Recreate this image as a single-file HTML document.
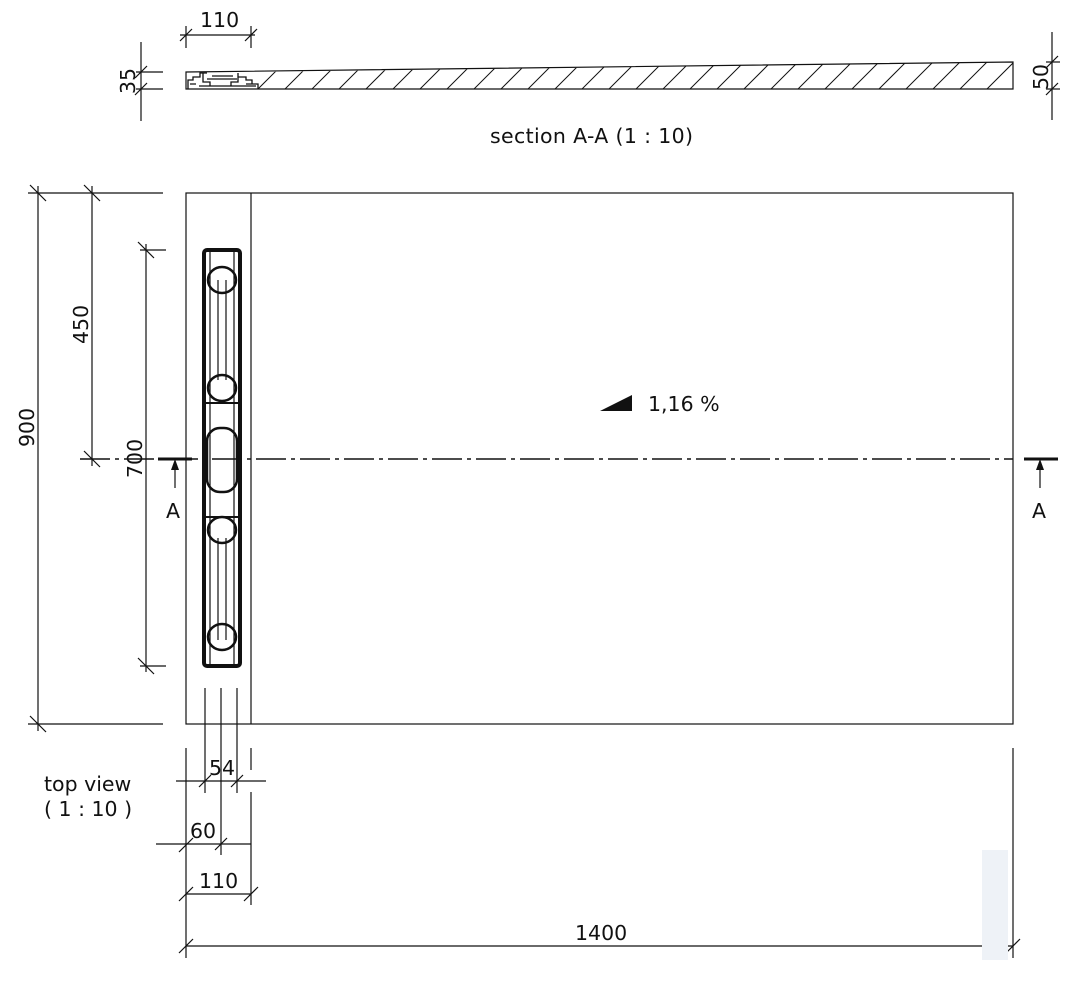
<!DOCTYPE html>
<html><head><meta charset="utf-8"><style>
html,body{margin:0;padding:0;background:#fff;}
svg{display:block;}
text{font-family:"DejaVu Sans","Liberation Sans",sans-serif;fill:#111;}
</style></head><body>
<svg width="1068" height="981" viewBox="0 0 1068 981" xmlns="http://www.w3.org/2000/svg">
<defs>
<clipPath id="sec"><polygon points="258,72 1013,62 1013,89 258,89"/></clipPath>
</defs>
<g stroke="#111" fill="none" stroke-width="1.2">
<polygon points="186,72 1013,62 1013,89 186,89"/>
<g clip-path="url(#sec)" stroke-width="1">
<line x1="258" y1="89" x2="285" y2="62"/>
<line x1="285" y1="89" x2="312" y2="62"/>
<line x1="312" y1="89" x2="339" y2="62"/>
<line x1="339" y1="89" x2="366" y2="62"/>
<line x1="366" y1="89" x2="393" y2="62"/>
<line x1="393" y1="89" x2="420" y2="62"/>
<line x1="420" y1="89" x2="447" y2="62"/>
<line x1="447" y1="89" x2="474" y2="62"/>
<line x1="474" y1="89" x2="501" y2="62"/>
<line x1="501" y1="89" x2="528" y2="62"/>
<line x1="528" y1="89" x2="555" y2="62"/>
<line x1="555" y1="89" x2="582" y2="62"/>
<line x1="582" y1="89" x2="609" y2="62"/>
<line x1="609" y1="89" x2="636" y2="62"/>
<line x1="636" y1="89" x2="663" y2="62"/>
<line x1="663" y1="89" x2="690" y2="62"/>
<line x1="690" y1="89" x2="717" y2="62"/>
<line x1="717" y1="89" x2="744" y2="62"/>
<line x1="744" y1="89" x2="771" y2="62"/>
<line x1="771" y1="89" x2="798" y2="62"/>
<line x1="798" y1="89" x2="825" y2="62"/>
<line x1="825" y1="89" x2="852" y2="62"/>
<line x1="852" y1="89" x2="879" y2="62"/>
<line x1="879" y1="89" x2="906" y2="62"/>
<line x1="906" y1="89" x2="933" y2="62"/>
<line x1="933" y1="89" x2="960" y2="62"/>
<line x1="960" y1="89" x2="987" y2="62"/>
<line x1="987" y1="89" x2="1014" y2="62"/>
</g>
<path d="M188,89 V80 H193 V77 H200 V73 H207 M203,73 V82 H210 V86 M238,73 V82 H231 V86 M207,79 H237 M212,76 H233 M238,77 H246 V80 H252 V84 H258 V89 M190,84 H196 M246,84 H258 M199,86 H256" stroke-width="1.3"/>
<line x1="141" y1="42" x2="141" y2="121"/>
<line x1="136" y1="72" x2="163" y2="72"/>
<line x1="136" y1="89" x2="163" y2="89"/>
<line x1="135" y1="78" x2="147" y2="66"/><line x1="135" y1="95" x2="147" y2="83"/>
<line x1="180" y1="35" x2="255" y2="35"/>
<line x1="186" y1="26" x2="186" y2="48"/><line x1="251" y1="26" x2="251" y2="48"/>
<line x1="180" y1="41" x2="192" y2="29"/><line x1="245" y1="41" x2="257" y2="29"/>
<line x1="1052" y1="32" x2="1052" y2="120"/>
<line x1="1046" y1="62" x2="1060" y2="62"/><line x1="1046" y1="89" x2="1060" y2="89"/>
<line x1="1046" y1="68" x2="1058" y2="56"/><line x1="1046" y1="95" x2="1058" y2="83"/>

<rect x="186" y="193" width="827" height="531"/>
<line x1="251" y1="193" x2="251" y2="724"/>
<line x1="80" y1="459" x2="1013" y2="459" stroke-dasharray="30,5,4,5" stroke-width="1.5"/>
<line x1="158" y1="459" x2="192" y2="459" stroke-width="3"/>
<line x1="1024" y1="459" x2="1058" y2="459" stroke-width="3"/>
<line x1="175" y1="462" x2="175" y2="488"/>
<line x1="1040" y1="462" x2="1040" y2="488"/>
<rect x="204" y="250" width="36" height="416" rx="3" stroke-width="4"/>
<line x1="210" y1="252" x2="210" y2="664"/><line x1="234" y1="252" x2="234" y2="664"/>
<line x1="218" y1="280" x2="218" y2="380"/><line x1="226" y1="280" x2="226" y2="380"/>
<line x1="218" y1="538" x2="218" y2="640"/><line x1="226" y1="538" x2="226" y2="640"/>
<line x1="206" y1="403" x2="238" y2="403" stroke-width="2"/><line x1="206" y1="517" x2="238" y2="517" stroke-width="2"/>
<ellipse cx="222" cy="280" rx="14" ry="13" stroke-width="2.5"/>
<ellipse cx="222" cy="388" rx="14" ry="13" stroke-width="2.5"/>
<rect x="207" y="428" width="30" height="64" rx="13" stroke-width="2.5"/>
<ellipse cx="222" cy="530" rx="14" ry="13" stroke-width="2.5"/>
<ellipse cx="222" cy="637" rx="14" ry="13" stroke-width="2.5"/>

<line x1="38" y1="186" x2="38" y2="731"/>
<line x1="28" y1="193" x2="163" y2="193"/><line x1="28" y1="724" x2="163" y2="724"/>
<line x1="30" y1="185" x2="46" y2="201"/><line x1="30" y1="716" x2="46" y2="732"/>
<line x1="92" y1="186" x2="92" y2="466"/>
<line x1="84" y1="185" x2="100" y2="201"/><line x1="84" y1="451" x2="100" y2="467"/>
<line x1="146" y1="244" x2="146" y2="672"/>
<line x1="140" y1="250" x2="166" y2="250"/><line x1="140" y1="666" x2="166" y2="666"/>
<line x1="138" y1="242" x2="154" y2="258"/><line x1="138" y1="658" x2="154" y2="674"/>

<line x1="205" y1="688" x2="205" y2="793"/>
<line x1="221" y1="688" x2="221" y2="855"/>
<line x1="237" y1="688" x2="237" y2="793"/>
<line x1="186" y1="748" x2="186" y2="958"/>
<line x1="251" y1="748" x2="251" y2="770"/>
<line x1="251" y1="792" x2="251" y2="905"/>
<line x1="1013" y1="748" x2="1013" y2="958"/>
<line x1="176" y1="781" x2="266" y2="781"/>
<line x1="199" y1="787" x2="211" y2="775"/><line x1="231" y1="787" x2="243" y2="775"/>
<line x1="156" y1="844" x2="251" y2="844"/>
<line x1="179" y1="852" x2="193" y2="838"/><line x1="215" y1="850" x2="227" y2="838"/>
<line x1="186" y1="894" x2="251" y2="894"/>
<line x1="179" y1="901" x2="193" y2="887"/><line x1="244" y1="901" x2="258" y2="887"/>
<line x1="186" y1="946" x2="1013" y2="946"/>
<line x1="179" y1="953" x2="193" y2="939"/><line x1="1006" y1="953" x2="1020" y2="939"/>
</g>
<g fill="#111">
<polygon points="175,459 171,470 179,470"/>
<polygon points="1040,459 1036,470 1044,470"/>
<polygon points="600,411 632,411 632,395"/>
</g>
<rect x="982" y="850" width="26" height="110" fill="#eef2f7"/>

<g font-size="20.5">
<text x="490" y="143" textLength="203">section A-A (1 : 10)</text>
<text x="200" y="27">110</text>
<text x="648" y="411">1,16 %</text>
<text x="166" y="518">A</text>
<text x="1032" y="518">A</text>
<text x="44" y="791">top view</text>
<text x="44" y="816">( 1 : 10 )</text>
<text x="209" y="775">54</text>
<text x="190" y="838">60</text>
<text x="199" y="888">110</text>
<text x="575" y="940">1400</text>
<text transform="translate(135,94) rotate(-90)">35</text>
<text transform="translate(1048,90) rotate(-90)">50</text>
<text transform="translate(34,447) rotate(-90)">900</text>
<text transform="translate(88,344) rotate(-90)">450</text>
<text transform="translate(142,478) rotate(-90)">700</text>
</g>
</svg>
</body></html>
